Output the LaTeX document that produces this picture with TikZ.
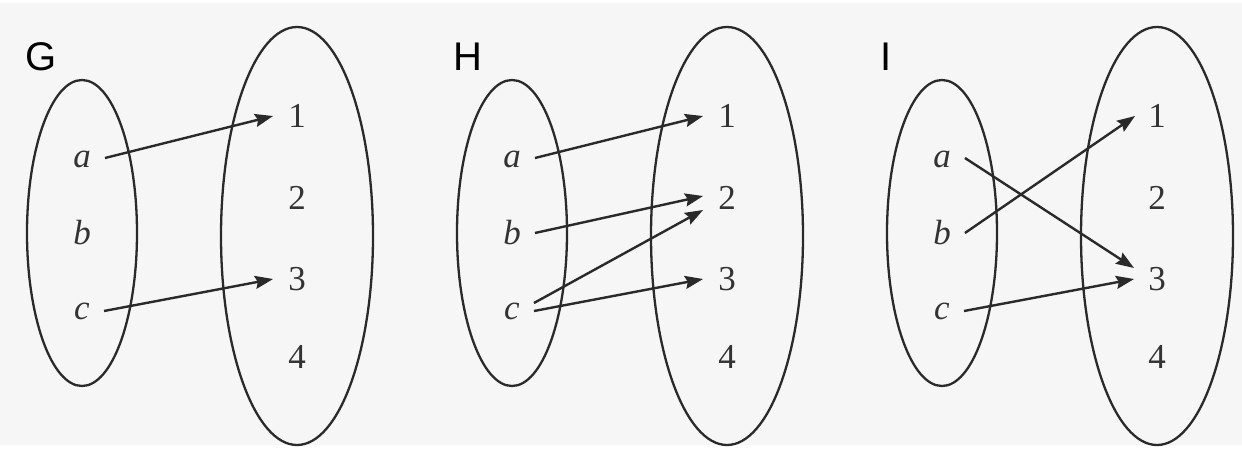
\documentclass[tikz,border=0pt]{standalone}
\usepackage{fontspec}
\setmainfont{Liberation Serif}
\newfontfamily\labfont{Liberation Sans}
\usetikzlibrary{arrows.meta}
\definecolor{bg}{HTML}{F6F6F6}
\definecolor{ink}{HTML}{2A2A2A}
\definecolor{txt}{HTML}{333333}
\tikzset{
  setline/.style={draw=ink, line width=2.3pt},
  elem/.style={inner sep=0pt, text=txt, font=\fontsize{35}{37}\selectfont},
  panellabel/.style={anchor=west, inner sep=0pt, font=\labfont\fontsize{40}{44}\selectfont},
  maparrow/.style={draw=ink, line width=2.4pt, -{Stealth[length=18pt,width=13pt,inset=2.5pt]}},
}
\begin{document}
\begin{tikzpicture}[x=1pt,y=-1pt]
\useasboundingbox (0,0) rectangle (1242,448);
\fill[white] (0,0) rectangle (1242,448);
\fill[bg] (0,3) rectangle (1242,445);
% panel labels
\node[panellabel] (labG) at (25,57) {G};
\node[panellabel] (labH) at (453,57) {H};
\node[panellabel] (labI) at (880,57) {I};
% ellipses
\foreach \ox in {0,430,860}{
  \draw[setline] (82+\ox,233) ellipse [x radius=55, y radius=153];
  \draw[setline] (297+\ox,236) ellipse [x radius=76, y radius=209];
}
% elements
\foreach \p/\ox in {G/0,H/430,I/860}{
  \node[elem] (\p a) at (82+\ox,159) {\textit{a}};
  \node[elem] (\p b) at (82+\ox,233) {\textit{b}};
  \node[elem] (\p c) at (82+\ox,311) {\textit{c}};
  \node[elem] (\p 1) at (297+\ox,116) {1};
  \node[elem] (\p 2) at (297+\ox,198) {2};
  \node[elem] (\p 3) at (297+\ox,279) {3};
  \node[elem] (\p 4) at (297+\ox,357) {4};
  \coordinate (\p as) at ([xshift=14pt,yshift=1pt]\p a.east);
  \coordinate (\p bs) at ([xshift=14pt]\p b.east);
  \coordinate (\p cs) at ([xshift=14pt]\p c.east);
}
% G
\draw[maparrow] (Gas) -- ([xshift=-15pt]G1.west);
\draw[maparrow] (Gcs) -- ([xshift=-15pt]G3.west);
% H
\draw[maparrow] (Has) -- ([xshift=-15pt]H1.west);
\draw[maparrow] (Hbs) -- ([xshift=-15pt,yshift=2pt]H2.west);
\draw[maparrow] ([yshift=8pt]Hcs) -- ([xshift=-15pt,yshift=-12pt]H2.west);
\draw[maparrow] (Hcs) -- ([xshift=-15pt]H3.west);
% I
\draw[maparrow] (Ias) -- ([xshift=-14pt,yshift=11pt]I3.west);
\draw[maparrow] (Ibs) -- ([xshift=-13pt]I1.west);
\draw[maparrow] (Ics) -- ([xshift=-14pt]I3.west);
\end{tikzpicture}
\end{document}
